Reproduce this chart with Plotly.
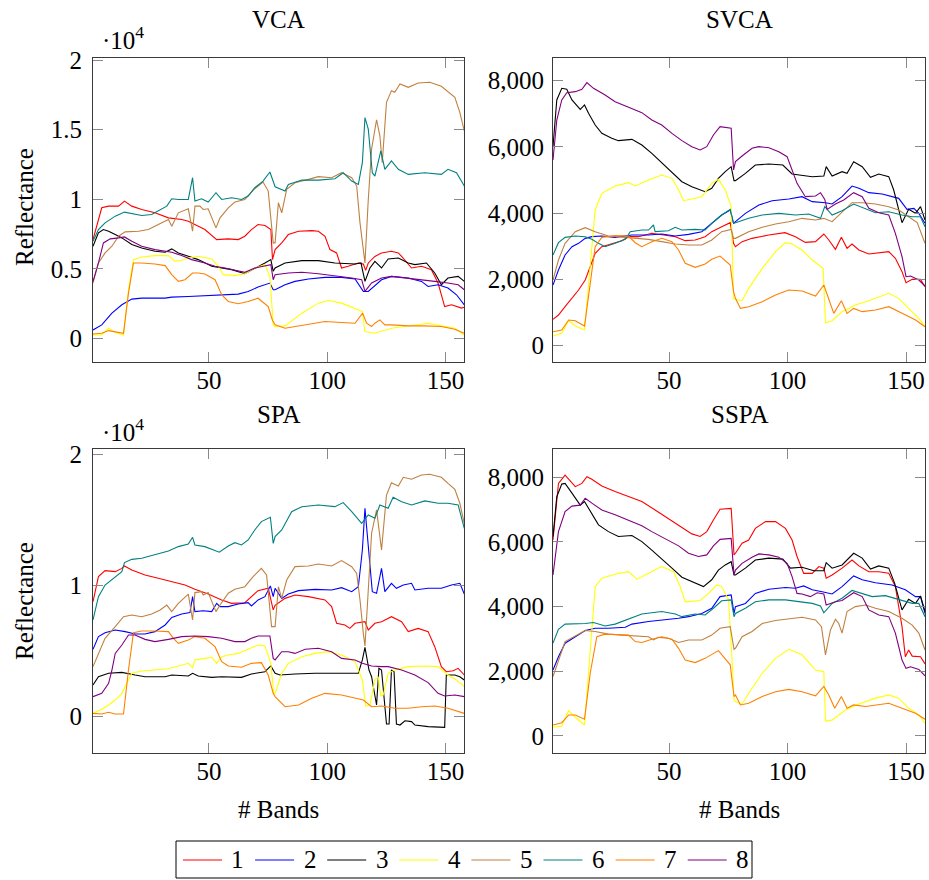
import plotly.graph_objects as go

FONT = "Liberation Serif"
NAMES = ["1", "2", "3", "4", "5", "6", "7", "8"]
COLORS = ["#ff0000", "#0000ff", "#000000", "#ffff00", "#bf8040", "#008080", "#ff8000", "#800080"]
PANEL_TITLES = ["VCA", "SVCA", "SPA", "SSPA"]
X_TICKS = [50, 100, 150]

# ---------------- VCA (band, reflectance) ----------------
VCA_1 = [(1, 7110), (4.7, 9390), (7.6, 9510), (11.8, 9510), (14.3, 9870), (17.4, 9510), (21.6, 9270), (27.2, 9030), (32.9, 8670), (38.5, 8550), (41.3, 8430), (44.1, 8190), (48.3, 7830), (53.3, 7110), (58.2, 7160), (62.4, 7110), (65.2, 7350), (68.0, 7830), (70.8, 8190), (73.7, 8120), (76.2, 7830), (76.9, 5670), (78.0, 6390), (80.8, 6870), (83.6, 7470), (87.9, 7710), (93.5, 7750), (96.3, 7710), (99.1, 7350), (101.2, 6390), (104.0, 6150), (106.1, 5070), (108.9, 5190), (113.2, 5430), (115.3, 5350), (116.3, 4900), (117.4, 5430), (120.2, 5900), (123.0, 6150), (127.2, 6270), (130.1, 6150), (131.5, 5900), (135.7, 5070), (139.9, 5190), (144.1, 4950), (146.9, 3990), (149.7, 2300), (152.6, 2430), (156.8, 2190), (158, 2250)]
VCA_2 = [(1, 625), (4.7, 985), (9.0, 1825), (13.2, 2426), (17.4, 2834), (21.6, 2906), (31.5, 2906), (34.3, 2978), (41.3, 3026), (48.3, 3075), (55.4, 3100), (62.4, 3195), (66.6, 3387), (70.8, 3700), (75.8, 3987), (77.2, 3507), (78.0, 3507), (82.2, 3867), (86.4, 4107), (92.1, 4276), (99.1, 4396), (106.1, 4396), (111.8, 4276), (115.3, 3387), (117.4, 3387), (123.0, 4228), (127.2, 4468), (134.3, 4348), (139.9, 4107), (142.7, 3747), (146.9, 3867), (151.1, 3627), (154.7, 3147), (158, 2426)]
VCA_3 = [(1, 6630), (3.3, 7590), (5.4, 7830), (7.6, 7710), (10.4, 7470), (13.2, 7230), (17.4, 6750), (21.6, 6510), (27.2, 6270), (31.5, 6200), (34.3, 6440), (37.1, 6150), (41.3, 5910), (45.5, 5670), (51.2, 5190), (55.4, 5070), (59.6, 4950), (65.2, 4660), (69.4, 5070), (73.7, 5430), (76.2, 5670), (77.2, 4830), (78.0, 5070), (82.2, 5430), (89.3, 5600), (96.3, 5600), (103.3, 5430), (111.8, 5360), (114.3, 5430), (116.0, 4108), (118.1, 5070), (120.2, 5550), (123.0, 5070), (125.8, 5720), (130.1, 5790), (134.3, 5430), (137.1, 5310), (142.0, 5430), (145.5, 4710), (148.3, 3867), (151.1, 4350), (155.4, 4470), (158, 4110)]
VCA_4 = [(1, 264), (4.7, 264), (7.6, 745), (10.4, 432), (13.9, 264), (16.0, 3507), (18.1, 5670), (21.6, 5860), (27.2, 5960), (32.9, 5960), (35.7, 5550), (38.5, 5620), (41.3, 5790), (45.5, 5910), (51.2, 5720), (54.0, 5190), (56.1, 4590), (61.0, 4520), (65.2, 4660), (69.4, 5070), (73.7, 5310), (75.8, 4470), (77.2, 985), (78.0, 865), (82.2, 913), (89.3, 1826), (96.3, 2546), (100.5, 2738), (106.1, 2546), (111.8, 2186), (114.9, 1946), (116.0, 504), (120.2, 384), (127.2, 745), (134.3, 913), (142.7, 1105), (148.3, 913), (154.0, 745), (158, 264)]
VCA_5 = [(1, 3987), (3.3, 5430), (6.1, 6150), (9.0, 6630), (11.8, 7350), (14.6, 7660), (20.2, 7710), (24.4, 7830), (28.6, 8190), (32.9, 8550), (34.3, 8070), (37.1, 9030), (41.3, 9320), (43.1, 7710), (44.1, 9510), (46.2, 9510), (47.6, 9270), (49.7, 9320), (53.0, 7950), (54.7, 8670), (58.2, 9390), (61.0, 9800), (65.2, 9990), (69.4, 10760), (72.9, 11240), (75.1, 10590), (77.2, 6870), (78.0, 6870), (79.4, 9750), (80.8, 9030), (82.9, 10710), (86.4, 11190), (92.1, 11430), (96.3, 11630), (101.9, 11550), (106.1, 11910), (110.4, 11550), (112.5, 10950), (113.9, 8310), (115.3, 6390), (116.0, 5430), (117.4, 9990), (118.8, 13600), (120.9, 15710), (122.3, 14560), (123.3, 12630), (125.1, 16960), (127.2, 17800), (128.6, 17680), (130.8, 18280), (134.3, 18040), (138.5, 18350), (143.4, 18400), (148.3, 18110), (151.1, 17730), (154.0, 17320), (156.1, 16240), (158, 14920)]
VCA_6 = [(1, 6990), (3.3, 7830), (6.1, 8310), (10.4, 8790), (14.3, 9080), (17.4, 8980), (21.6, 8840), (25.8, 8910), (29.4, 9270), (32.2, 9510), (34.3, 10040), (37.1, 9990), (41.3, 9990), (43.1, 11550), (44.1, 9870), (46.9, 10040), (49.7, 9800), (53.0, 10470), (55.4, 9990), (59.6, 10110), (63.8, 9990), (66.6, 10230), (69.4, 10830), (72.9, 11310), (75.8, 11960), (77.2, 11190), (78.0, 10900), (82.2, 10590), (83.6, 11070), (89.3, 11380), (96.3, 11380), (103.3, 11480), (106.8, 11910), (110.4, 11310), (113.2, 11070), (114.9, 12630), (116.0, 15870), (117.4, 15040), (119.1, 11910), (120.2, 11670), (122.7, 13470), (124.4, 12150), (127.2, 12750), (130.1, 12150), (134.3, 11790), (141.3, 11910), (148.3, 11790), (151.1, 12150), (154.7, 11910), (158, 10950)]
VCA_7 = [(1, 336), (4.7, 384), (7.6, 576), (10.4, 505), (13.9, 384), (16.0, 3267), (18.1, 5430), (21.6, 5430), (27.2, 5360), (31.5, 5240), (34.3, 4590), (37.1, 4110), (39.9, 4230), (43.1, 4710), (45.5, 4710), (48.3, 4640), (52.6, 4230), (55.4, 3150), (58.2, 2670), (62.4, 2500), (66.6, 2670), (70.8, 2900), (75.1, 2300), (76.9, 1300), (78.0, 985), (82.2, 745), (86.4, 865), (92.1, 1057), (99.1, 1225), (106.1, 1153), (111.8, 1105), (115.0, 1826), (116.7, 1105), (118.8, 865), (120.2, 1105), (122.3, 1345), (124.4, 985), (127.2, 985), (134.3, 913), (141.3, 913), (148.3, 865), (154.0, 673), (158, 384)]
VCA_8 = [(1, 4107), (3.3, 5430), (5.4, 6870), (8.3, 7160), (11.8, 7230), (14.3, 7300), (17.4, 6990), (21.6, 6630), (27.2, 6390), (34.3, 6200), (38.5, 5960), (42.7, 5670), (48.3, 5430), (52.6, 5190), (56.8, 5070), (61.0, 4900), (65.2, 4760), (69.4, 5070), (73.7, 5190), (76.2, 5310), (77.2, 4230), (78.0, 4590), (83.6, 4710), (89.3, 4760), (96.3, 4660), (103.3, 4520), (110.4, 4350), (114.6, 4230), (116.0, 3390), (118.8, 3990), (123.0, 4350), (127.2, 4470), (134.3, 4350), (139.9, 4230), (145.5, 4110), (151.1, 3990), (155.4, 3870), (158, 3510)]

# ---------------- SVCA ----------------
SVCA_1 = [(1, 786), (3.3, 917), (6.1, 1169), (9.0, 1421), (11.8, 1673), (14.6, 1975), (16.7, 2378), (18.8, 2781), (21.6, 2983), (25.8, 3083), (30.1, 3164), (32.9, 3285), (37.1, 3285), (42.7, 3386), (46.9, 3335), (52.6, 3285), (56.8, 3164), (61.0, 3184), (65.2, 3285), (68.0, 3436), (72.2, 3587), (75.8, 3708), (77.2, 3083), (78.0, 2983), (80.8, 3134), (85.0, 3234), (92.1, 3335), (98.9, 3406), (103.3, 3285), (107.5, 3113), (111.8, 3134), (115.3, 3365), (117.4, 3184), (120.2, 2902), (122.7, 3264), (125.1, 2932), (127.2, 3063), (130.1, 2882), (134.3, 2761), (138.5, 2801), (142.7, 2832), (145.5, 2630), (148.3, 2227), (150.0, 1894), (152.6, 1995), (156.1, 1995), (158, 1773)]
SVCA_2 = [(1, 1824), (3.3, 2277), (6.1, 2731), (9.0, 2983), (11.8, 3083), (14.6, 3234), (17.4, 3285), (21.6, 3305), (27.2, 3264), (32.9, 3305), (34.3, 3335), (41.3, 3335), (46.9, 3365), (52.6, 3305), (58.2, 3355), (63.8, 3436), (68.0, 3688), (72.2, 3940), (75.8, 4091), (77.2, 3688), (78.0, 3738), (82.2, 3990), (87.9, 4242), (93.5, 4373), (100.5, 4423), (106.1, 4494), (110.4, 4343), (116.0, 4312), (118.8, 4272), (123.0, 4494), (127.2, 4816), (130.1, 4746), (134.3, 4615), (139.9, 4574), (146.9, 4443), (150.4, 4111), (153.3, 4141), (155.4, 3990), (158, 3688)]
SVCA_3 = [(1, 6005), (2.6, 7416), (4.7, 7769), (6.8, 7738), (9.0, 7416), (12.5, 7134), (14.3, 7265), (16.0, 7013), (18.8, 6660), (21.6, 6408), (25.8, 6257), (28.6, 6187), (34.3, 6227), (38.5, 6056), (42.7, 5804), (46.9, 5522), (51.2, 5219), (55.4, 4947), (59.6, 4796), (65.2, 4645), (68.0, 4746), (70.8, 5048), (73.7, 5250), (76.2, 5401), (77.4, 4978), (78.0, 4978), (82.2, 5199), (86.4, 5451), (92.1, 5481), (98.0, 5451), (101.9, 5179), (106.1, 5149), (110.4, 5098), (115.3, 5118), (116.3, 5401), (118.8, 5118), (123.0, 5250), (125.1, 5199), (127.9, 5552), (131.5, 5401), (135.0, 5078), (138.5, 5179), (142.7, 5098), (144.8, 4695), (148.3, 3708), (151.1, 4111), (154.0, 3990), (156.1, 4192), (158, 3789)]
SVCA_4 = [(1, 282), (4.7, 363), (7.6, 746), (10.4, 584), (14.3, 463), (16.7, 2277), (18.8, 4091), (21.6, 4595), (27.2, 4816), (32.9, 4917), (35.7, 4816), (41.3, 4998), (46.9, 5149), (51.2, 5048), (54.0, 4695), (56.1, 4373), (61.0, 4443), (63.8, 4494), (68.0, 4897), (70.8, 5018), (73.7, 4695), (76.2, 4192), (77.2, 1421), (78.0, 1390), (80.8, 1350), (83.6, 1723), (89.3, 2328), (94.9, 2831), (99.1, 3103), (101.9, 3063), (106.1, 2882), (110.4, 2579), (115.0, 2328), (116.0, 685), (118.8, 746), (123.0, 1018), (128.6, 1219), (134.3, 1350), (142.7, 1572), (146.9, 1421), (151.1, 1118), (155.4, 816), (158, 564)]
SVCA_5 = [(1, 1975), (3.3, 2579), (6.1, 3083), (10.4, 3436), (14.6, 3557), (18.8, 3436), (24.4, 3305), (30.1, 3264), (34.3, 3234), (41.3, 3204), (46.9, 3134), (52.6, 3063), (58.2, 3033), (63.8, 3033), (68.0, 3184), (72.2, 3436), (76.2, 3506), (77.2, 3234), (78.0, 3234), (83.6, 3436), (89.3, 3567), (94.9, 3668), (100.5, 3738), (106.1, 3839), (111.8, 3789), (115.3, 3839), (118.8, 3738), (123.0, 4010), (127.2, 4312), (131.5, 4312), (137.1, 4272), (142.7, 4192), (146.9, 4091), (151.1, 3889), (154.7, 3708), (158, 3083)]
SVCA_6 = [(1, 2731), (3.3, 3103), (6.1, 3264), (10.4, 3305), (14.6, 3285), (17.4, 3204), (20.2, 3083), (23.0, 2983), (27.2, 3083), (31.5, 3204), (33.6, 3436), (38.5, 3486), (41.3, 3486), (43.4, 3638), (44.1, 3436), (49.7, 3466), (52.6, 3567), (55.4, 3486), (61.0, 3506), (65.2, 3486), (68.0, 3688), (72.2, 3940), (75.8, 4111), (77.2, 3688), (78.0, 3708), (83.6, 3839), (89.3, 3940), (96.3, 3990), (103.3, 3940), (108.9, 3970), (113.9, 3839), (115.7, 4192), (118.8, 3940), (123.0, 4070), (127.9, 4272), (132.9, 4141), (137.1, 4010), (142.7, 4040), (148.3, 3940), (152.6, 3889), (156.1, 3889), (158, 3587)]
SVCA_7 = [(1, 413), (4.7, 463), (7.6, 766), (10.4, 746), (14.3, 584), (16.7, 1874), (18.8, 2983), (21.6, 3264), (27.2, 3315), (32.9, 3305), (35.7, 3103), (38.5, 2983), (42.7, 3134), (46.9, 3234), (51.2, 3134), (54.0, 2882), (56.8, 2479), (61.0, 2358), (65.2, 2458), (68.0, 2600), (71.5, 2700), (75.8, 2428), (77.2, 1622), (78.0, 1421), (80.1, 1118), (83.6, 1169), (89.3, 1320), (94.9, 1521), (100.5, 1673), (106.1, 1642), (111.8, 1491), (115.3, 1824), (117.4, 1421), (119.5, 967), (122.7, 1350), (125.1, 967), (127.9, 1118), (131.5, 1018), (137.1, 1068), (142.7, 1169), (148.3, 967), (154.0, 766), (158, 564)]
SVCA_8 = [(1, 5602), (2.6, 6811), (4.7, 7416), (6.8, 7637), (10.4, 7668), (13.2, 7738), (15.3, 7940), (18.1, 7769), (23.0, 7567), (27.2, 7366), (32.9, 7194), (38.5, 7033), (42.7, 6811), (46.9, 6660), (51.2, 6408), (55.4, 6187), (59.6, 6005), (63.1, 5905), (65.9, 6005), (68.7, 6358), (71.5, 6610), (76.2, 6560), (77.2, 5300), (78.0, 5552), (80.8, 5723), (85.0, 5955), (87.9, 6005), (92.1, 5975), (96.3, 5854), (99.8, 5703), (101.9, 5300), (104.0, 4897), (107.5, 4494), (111.8, 4514), (113.9, 4615), (115.7, 4413), (116.7, 4111), (120.2, 4272), (123.7, 4393), (127.9, 4615), (131.5, 4494), (134.3, 4141), (138.5, 4010), (142.7, 3940), (145.5, 3386), (148.3, 2680), (150.0, 2076), (151.9, 2096), (155.4, 1975), (158, 1794)]

# ---------------- SPA ----------------
SPA_1 = [(1, 8730), (3.3, 10640), (6.1, 11100), (10.4, 11020), (13.2, 11270), (14.3, 11450), (17.4, 11150), (23.0, 10770), (28.6, 10510), (34.3, 10260), (39.9, 10000), (44.1, 9670), (49.7, 9310), (55.4, 8860), (59.6, 8600), (65.2, 8650), (68.0, 9110), (70.8, 9570), (75.1, 9750), (76.5, 8600), (77.2, 8100), (78.0, 8450), (82.2, 8980), (86.4, 9240), (92.1, 9110), (99.1, 8860), (101.9, 8350), (104.0, 7080), (107.5, 6950), (109.6, 6690), (111.8, 7080), (116.0, 7200), (117.4, 6570), (120.2, 7080), (123.0, 7200), (127.2, 7580), (131.5, 7200), (134.3, 6440), (138.5, 6690), (142.7, 6440), (145.5, 5290), (148.3, 3770), (150.4, 3380), (153.3, 3460), (155.4, 3640), (158, 3130)]
SPA_2 = [(1, 5090), (3.3, 6060), (6.1, 6360), (10.4, 6570), (14.6, 6440), (18.8, 6260), (23.0, 6260), (27.2, 6440), (31.5, 6950), (34.3, 7530), (38.5, 7790), (42.0, 7890), (43.1, 9110), (44.1, 7970), (47.6, 8040), (51.2, 7970), (53.3, 8600), (54.7, 8350), (58.2, 8350), (62.4, 8550), (66.6, 8650), (68.0, 8400), (70.8, 8860), (73.7, 9110), (76.0, 9930), (77.2, 9110), (78.0, 9750), (80.8, 8980), (83.6, 9310), (87.9, 9570), (94.9, 9670), (101.9, 9620), (106.1, 9800), (110.4, 9490), (113.2, 9870), (114.9, 12670), (116.0, 15850), (117.4, 12930), (119.1, 9490), (120.9, 9370), (123.0, 11270), (124.4, 9490), (127.2, 10130), (129.3, 9750), (132.2, 10000), (135.7, 10130), (137.1, 9620), (142.7, 9750), (148.3, 9750), (152.6, 10000), (156.1, 10130), (158, 9310)]
SPA_3 = [(1, 2370), (3.3, 3000), (7.6, 3260), (13.2, 3330), (18.8, 3130), (23.0, 3000), (31.5, 3000), (34.3, 3130), (41.3, 3050), (43.1, 3260), (45.5, 3050), (51.2, 2950), (55.4, 3000), (63.8, 2950), (68.0, 3210), (73.7, 3380), (76.2, 3820), (78.0, 3260), (80.1, 3130), (86.4, 3210), (94.9, 3260), (106.1, 3260), (113.2, 3260), (114.9, 4280), (116.0, 5240), (117.7, 3510), (118.8, 3000), (120.9, 840), (121.9, 3640), (123.0, 3510), (125.1, -610), (126.2, -610), (127.2, 3510), (128.3, 3380), (129.3, -610), (130.8, -690), (132.9, -360), (135.7, -430), (137.1, -690), (142.7, -810), (149.7, -870), (150.4, 3130), (154.0, 3130), (156.1, 3000), (158, 2750)]
SPA_4 = [(1, 200), (4.7, 510), (7.6, 840), (10.4, 1220), (13.2, 1730), (15.3, 2490), (17.4, 3260), (21.6, 3440), (27.2, 3510), (32.9, 3610), (37.1, 3820), (41.3, 4020), (43.1, 3690), (44.1, 4280), (48.3, 4400), (51.2, 4480), (53.3, 4020), (55.4, 4530), (58.2, 4660), (62.4, 4780), (66.6, 5090), (70.8, 5420), (73.7, 5340), (76.2, 4020), (77.4, 1730), (78.0, 1730), (80.8, 3260), (83.6, 4020), (89.3, 4530), (94.9, 4780), (100.5, 4910), (106.1, 4660), (111.8, 4150), (114.9, 2750), (116.3, 760), (118.1, 840), (120.2, 2750), (121.6, 3000), (122.7, 1530), (123.7, 1600), (125.8, 3260), (129.3, 3560), (134.3, 3770), (141.3, 3820), (146.9, 3770), (151.1, 3130), (154.7, 2750), (158, 2240)]
SPA_5 = [(1, 3770), (3.3, 4780), (6.1, 5930), (10.4, 6820), (13.9, 7580), (17.4, 7710), (21.6, 7580), (25.8, 7790), (29.4, 8090), (32.2, 8470), (34.3, 7970), (37.1, 8600), (41.3, 9310), (43.1, 7330), (44.1, 9420), (46.9, 9490), (47.6, 9240), (49.7, 9420), (53.0, 7970), (54.7, 8470), (58.2, 9370), (61.0, 9670), (65.2, 9870), (68.7, 10640), (72.2, 11270), (74.4, 10770), (76.5, 6820), (78.0, 6820), (79.4, 9870), (80.8, 8980), (82.9, 10380), (86.4, 11400), (92.1, 11450), (96.3, 11600), (101.9, 11450), (106.1, 11860), (110.4, 11400), (112.5, 10890), (113.9, 8860), (115.3, 6310), (116.0, 5340), (117.4, 9620), (118.8, 13950), (120.9, 15730), (121.9, 14460), (123.0, 12670), (125.1, 16870), (127.2, 17810), (130.1, 17560), (132.2, 18220), (135.7, 18070), (139.9, 18400), (143.4, 18450), (148.3, 18220), (151.1, 17760), (154.0, 17310), (156.1, 16240), (158, 14710)]
SPA_6 = [(1, 7330), (3.3, 9110), (6.1, 10000), (10.4, 10640), (13.2, 11020), (14.3, 11710), (17.4, 11960), (21.6, 12040), (27.2, 12290), (32.9, 12600), (37.1, 12930), (41.3, 13130), (43.1, 13640), (44.1, 13060), (48.3, 12930), (51.2, 12730), (54.4, 12500), (58.2, 12980), (61.0, 13230), (63.8, 13060), (66.6, 13440), (69.4, 14200), (72.2, 14840), (76.0, 15170), (77.2, 13180), (78.0, 13690), (80.8, 14200), (85.0, 15600), (89.3, 15980), (96.3, 16110), (103.3, 15980), (106.8, 16290), (110.4, 15600), (114.6, 14710), (117.4, 15350), (120.2, 15090), (122.3, 16110), (125.8, 15860), (127.9, 16700), (131.5, 16360), (135.7, 16110), (141.3, 16420), (146.9, 16240), (151.1, 16240), (155.4, 16110), (158, 14330)]
SPA_7 = [(1, 200), (4.7, 150), (7.6, 280), (10.4, 150), (13.9, 150), (16.0, 3510), (18.1, 6360), (21.6, 6490), (27.2, 6490), (32.9, 6440), (35.0, 5930), (37.1, 5550), (41.3, 5800), (44.1, 6060), (48.3, 5930), (52.6, 5290), (55.4, 4150), (58.2, 3820), (63.8, 3720), (68.0, 4020), (72.2, 4070), (75.1, 3130), (77.2, 1730), (78.0, 1480), (82.2, 710), (87.9, 840), (93.5, 1350), (99.1, 1730), (106.1, 1600), (111.8, 1350), (115.3, 1220), (118.8, 710), (123.0, 760), (128.6, 590), (134.3, 590), (139.9, 710), (145.5, 760), (151.1, 590), (158, 200)]
SPA_8 = [(1, 1480), (4.7, 1730), (7.6, 2490), (9.0, 3510), (10.4, 4780), (13.2, 5420), (16.0, 6180), (18.8, 6180), (23.0, 5850), (27.2, 5680), (32.9, 5850), (38.5, 6060), (44.1, 6110), (49.7, 6060), (55.4, 5930), (61.0, 5680), (65.2, 5680), (68.0, 5930), (70.8, 6110), (75.8, 6110), (77.2, 4400), (78.0, 4280), (80.8, 4910), (83.6, 4910), (86.4, 4780), (90.7, 5090), (96.3, 5170), (101.9, 4910), (106.1, 4400), (111.8, 4280), (114.9, 4020), (118.8, 3820), (123.0, 3770), (125.8, 3770), (131.5, 3510), (137.1, 3130), (142.7, 2550), (146.9, 1730), (149.7, 1530), (154.0, 1600), (158, 1480)]

# ---------------- SSPA ----------------
SSPA_1 = [(1, 6060), (3.3, 7810), (6.1, 8070), (10.4, 7710), (13.2, 7810), (15.3, 8020), (17.4, 7940), (21.6, 7730), (27.2, 7560), (32.9, 7400), (38.5, 7250), (44.1, 6990), (49.7, 6730), (55.4, 6450), (59.6, 6250), (63.1, 6170), (65.9, 6320), (68.7, 6680), (71.5, 7010), (76.2, 7040), (77.4, 5600), (78.0, 5650), (80.8, 5960), (83.6, 6060), (86.4, 6420), (90.7, 6630), (94.9, 6630), (99.1, 6420), (101.9, 6060), (104.0, 5550), (106.8, 5030), (110.4, 5030), (113.2, 5240), (115.3, 5190), (116.3, 4880), (118.8, 4980), (123.0, 5190), (127.2, 5440), (130.1, 5260), (134.3, 5080), (138.5, 5080), (142.7, 5030), (145.5, 4620), (148.3, 3380), (149.7, 2450), (151.1, 2660), (152.6, 2470), (156.1, 2450), (158, 2230)]
SSPA_2 = [(1, 2040), (3.3, 2450), (6.1, 2870), (10.4, 3070), (14.6, 3260), (18.8, 3330), (24.4, 3330), (31.5, 3360), (34.3, 3460), (41.3, 3540), (48.3, 3590), (54.0, 3640), (58.2, 3690), (63.8, 3790), (68.0, 3950), (71.5, 4310), (76.2, 4360), (77.4, 3790), (78.0, 4000), (82.2, 4100), (86.4, 4410), (92.1, 4540), (99.1, 4590), (103.3, 4570), (106.8, 4640), (110.4, 4520), (114.6, 4460), (118.8, 4390), (123.0, 4620), (127.9, 4950), (131.5, 4830), (137.1, 4740), (144.1, 4670), (149.7, 4520), (154.0, 4310), (156.1, 4310), (158, 3790)]
SSPA_3 = [(1, 6170), (2.6, 7400), (4.7, 7790), (6.1, 7810), (9.0, 7510), (12.5, 7140), (14.3, 7250), (16.7, 6940), (20.2, 6530), (24.4, 6320), (28.6, 6170), (34.3, 6200), (38.5, 6010), (42.7, 5750), (46.9, 5460), (51.2, 5190), (55.4, 4910), (59.6, 4770), (64.5, 4620), (68.0, 4830), (70.8, 5130), (73.7, 5290), (76.2, 5390), (77.4, 4980), (78.0, 4980), (82.2, 5190), (86.4, 5440), (92.1, 5500), (98.0, 5470), (101.2, 5190), (106.1, 5220), (111.1, 5110), (115.3, 5110), (116.3, 5360), (118.8, 5190), (123.0, 5290), (127.9, 5650), (131.5, 5500), (135.0, 5160), (138.5, 5260), (142.7, 5190), (145.2, 4720), (148.3, 3900), (151.1, 4230), (154.0, 4100), (156.1, 4330), (158, 3850)]
SSPA_4 = [(1, 270), (4.7, 310), (7.6, 780), (10.4, 580), (14.3, 340), (16.7, 2560), (18.8, 4620), (21.6, 4880), (27.2, 5000), (32.9, 5080), (36.4, 4850), (41.3, 5030), (46.9, 5240), (51.9, 5080), (54.7, 4620), (56.8, 4150), (63.1, 4190), (66.6, 4410), (70.1, 4670), (72.2, 4620), (75.1, 4210), (76.5, 2450), (77.4, 1110), (78.0, 1060), (80.8, 990), (83.6, 1320), (89.3, 1940), (94.9, 2400), (100.5, 2680), (106.1, 2510), (111.8, 2040), (115.3, 1990), (116.0, 460), (118.8, 490), (124.4, 800), (130.1, 990), (137.1, 1170), (142.7, 1270), (146.9, 1170), (151.1, 860), (155.4, 650), (158, 390)]
SSPA_5 = [(1, 1840), (3.3, 2350), (6.1, 2920), (10.4, 3090), (14.6, 3260), (18.8, 3230), (24.4, 3150), (30.1, 3120), (35.7, 3090), (41.3, 3070), (43.4, 2970), (45.5, 3050), (49.7, 3020), (54.0, 2890), (58.2, 2970), (63.8, 2970), (68.0, 3120), (71.5, 3330), (75.8, 3380), (77.4, 2680), (78.0, 2710), (80.8, 3070), (85.0, 3230), (89.3, 3480), (94.9, 3570), (100.5, 3620), (106.1, 3670), (111.8, 3590), (114.3, 3380), (116.0, 2510), (118.1, 3280), (120.2, 3610), (121.6, 3480), (123.0, 3180), (125.1, 3850), (128.6, 4000), (132.9, 4050), (137.1, 3950), (142.7, 3850), (148.3, 3640), (152.6, 3430), (155.4, 3180), (158, 2660)]
SSPA_6 = [(1, 2870), (3.3, 3300), (6.1, 3460), (10.4, 3460), (14.6, 3480), (18.1, 3510), (23.0, 3400), (27.2, 3460), (32.9, 3610), (38.5, 3770), (42.7, 3810), (46.9, 3850), (52.6, 3770), (55.4, 3690), (61.0, 3770), (65.2, 3740), (68.7, 3950), (72.2, 4180), (76.2, 4210), (77.4, 3690), (78.0, 3790), (82.2, 3950), (86.4, 4150), (92.1, 4210), (99.1, 4210), (106.1, 4150), (110.4, 4100), (113.9, 4020), (115.3, 3810), (118.8, 4100), (123.0, 4260), (127.2, 4500), (131.5, 4410), (135.7, 4310), (141.3, 4340), (146.9, 4230), (152.6, 4100), (155.4, 4100), (158, 3690)]
SSPA_7 = [(1, 340), (4.7, 410), (7.6, 650), (10.4, 650), (14.3, 520), (16.7, 1940), (19.5, 3070), (23.0, 3150), (27.2, 3140), (32.9, 3120), (35.7, 2920), (38.5, 2890), (42.7, 2990), (46.9, 3070), (51.2, 2990), (54.0, 2710), (56.8, 2350), (61.0, 2270), (65.2, 2400), (70.8, 2640), (75.8, 2200), (77.4, 1220), (78.0, 1270), (80.1, 960), (83.6, 1010), (89.3, 1220), (94.9, 1370), (100.5, 1440), (106.1, 1370), (111.8, 1240), (115.3, 1530), (117.4, 1270), (119.9, 860), (122.7, 1220), (125.1, 860), (127.9, 960), (132.9, 910), (137.1, 960), (142.7, 1010), (148.3, 860), (154.0, 700), (158, 520)]
SSPA_8 = [(1, 4980), (3.3, 6320), (6.1, 6940), (9.0, 7110), (12.5, 7140), (14.6, 7350), (17.4, 7200), (21.6, 6990), (27.2, 6840), (32.9, 6660), (38.5, 6500), (42.7, 6320), (48.3, 6110), (54.0, 5880), (58.2, 5650), (62.4, 5550), (65.9, 5600), (68.7, 5880), (71.5, 6080), (76.2, 6110), (77.4, 4980), (78.0, 5130), (80.8, 5340), (85.0, 5530), (87.9, 5630), (92.1, 5600), (96.3, 5530), (99.8, 5340), (101.9, 4930), (104.0, 4410), (106.1, 4390), (109.6, 4310), (112.5, 4430), (115.3, 4390), (116.3, 4050), (120.2, 4150), (123.0, 4190), (127.9, 4430), (131.5, 4310), (134.3, 3900), (138.5, 3740), (142.7, 3690), (145.5, 3180), (148.3, 2350), (150.0, 2090), (151.9, 2140), (155.4, 2060), (158, 1860)]

VCA = [VCA_1, VCA_2, VCA_3, VCA_4, VCA_5, VCA_6, VCA_7, VCA_8]
SVCA = [SVCA_1, SVCA_2, SVCA_3, SVCA_4, SVCA_5, SVCA_6, SVCA_7, SVCA_8]
SPA = [SPA_1, SPA_2, SPA_3, SPA_4, SPA_5, SPA_6, SPA_7, SPA_8]
SSPA = [SSPA_1, SSPA_2, SSPA_3, SSPA_4, SSPA_5, SSPA_6, SSPA_7, SSPA_8]

VCA_YTICKS = [0, 5000, 10000, 15000, 20000]
VCA_YTEXT = ["0", "0.5", "1", "1.5", "2"]
SPA_YTICKS = [0, 10000, 20000]
SPA_YTEXT = ["0", "1", "2"]
S_YTICKS = [0, 2000, 4000, 6000, 8000]
S_YTEXT = ["0", "2,000", "4,000", "6,000", "8,000"]

W, H = 929, 880


def px_x(p):
    return p / W


def px_y(p):
    return 1 - p / H


fig = go.Figure()
panels = [(VCA, "x", "y"), (SVCA, "x2", "y2"), (SPA, "x3", "y3"), (SSPA, "x4", "y4")]
for pi, (data, xa, ya) in enumerate(panels):
    for si, series in enumerate(data):
        fig.add_trace(go.Scatter(
            x=[p[0] for p in series], y=[p[1] for p in series],
            mode="lines", line=dict(color=COLORS[si], width=1.1),
            name=NAMES[si], legendgroup=NAMES[si], showlegend=False,
            xaxis=xa, yaxis=ya, hoverinfo="skip"))

tickfont = dict(family=FONT, size=25, color="black")
common = dict(showline=True, mirror="ticks", linecolor="#3a3a3a", linewidth=1.2,
              ticks="inside", ticklen=10, tickwidth=1, tickcolor="#8a8a8a",
              showgrid=False, zeroline=False, tickfont=tickfont, automargin=False)

XL = [px_x(93), px_x(464.3)]
XR = [px_x(553), px_x(925)]
YT = [px_y(361.7), px_y(58.3)]
YB = [px_y(753.3), px_y(449.3)]

xcommon = dict(common, range=[1, 158], tickvals=X_TICKS, ticklabelstandoff=-4)
fig.update_layout(
    template="none",
    xaxis=dict(xcommon, domain=XL, anchor="y"),
    xaxis2=dict(xcommon, domain=XR, anchor="y2"),
    xaxis3=dict(xcommon, domain=XL, anchor="y3"),
    xaxis4=dict(xcommon, domain=XR, anchor="y4"),
    yaxis=dict(common, domain=YT, anchor="x", range=[-1657, 20122], tickvals=VCA_YTICKS, ticktext=VCA_YTEXT, ticklabelstandoff=5),
    yaxis2=dict(common, domain=YT, anchor="x2", range=[-494, 8676], tickvals=S_YTICKS, ticktext=S_YTEXT, ticklabelstandoff=3),
    yaxis3=dict(common, domain=YB, anchor="x3", range=[-2847, 20359], tickvals=SPA_YTICKS, ticktext=SPA_YTEXT, ticklabelstandoff=5),
    yaxis4=dict(common, domain=YB, anchor="x4", range=[-536, 8866], tickvals=S_YTICKS, ticktext=S_YTEXT, ticklabelstandoff=3),
)

ann = []
shapes = []
txt = dict(family=FONT, size=25, color="black")
centers = [(278.6, 20), (739, 20), (278.6, 414), (739, 414)]
for t, (cx, cy) in zip(PANEL_TITLES, centers):
    ann.append(dict(text=t, x=px_x(cx), y=px_y(cy), xref="paper", yref="paper",
                    showarrow=False, xanchor="center", yanchor="middle", font=txt))
for cy in (38, 430):
    ann.append(dict(text="·10<sup>4</sup>", x=px_x(100), y=px_y(cy), xref="paper", yref="paper",
                    showarrow=False, xanchor="left", yanchor="middle", font=txt))
for cy in (207, 601):
    ann.append(dict(text="Reflectance", x=px_x(24), y=px_y(cy), xref="paper", yref="paper",
                    showarrow=False, xanchor="center", yanchor="middle", textangle=-90, font=txt))
for cx in (278.6, 739):
    ann.append(dict(text="# Bands", x=px_x(cx), y=px_y(809), xref="paper", yref="paper",
                    showarrow=False, xanchor="center", yanchor="middle", font=txt))

# legend box drawn as a framed row of line samples and labels
LEG_L, LEG_R, LEG_T, LEG_B = 176, 752, 841, 878
LEG_STEP = 72.1
shapes.append(dict(type="rect", xref="paper", yref="paper",
                   x0=px_x(LEG_L), x1=px_x(LEG_R), y0=px_y(LEG_B), y1=px_y(LEG_T),
                   line=dict(color="black", width=1), fillcolor="white", layer="above"))
for i, (nm, col) in enumerate(zip(NAMES, COLORS)):
    x0 = 183 + LEG_STEP * i
    shapes.append(dict(type="line", xref="paper", yref="paper",
                       x0=px_x(x0), x1=px_x(x0 + 39), y0=px_y(860), y1=px_y(860),
                       line=dict(color=col, width=1.2), layer="above"))
    ann.append(dict(text=nm, x=px_x(x0 + 55), y=px_y(859), xref="paper", yref="paper",
                    showarrow=False, xanchor="center", yanchor="middle", font=txt))

fig.update_layout(
    width=W, height=H, margin=dict(l=0, r=0, t=0, b=0, pad=0, autoexpand=False),
    paper_bgcolor="white", plot_bgcolor="white",
    annotations=ann, shapes=shapes,
    showlegend=False,
    font=dict(family=FONT),
)

fig.write_html("out.html")
